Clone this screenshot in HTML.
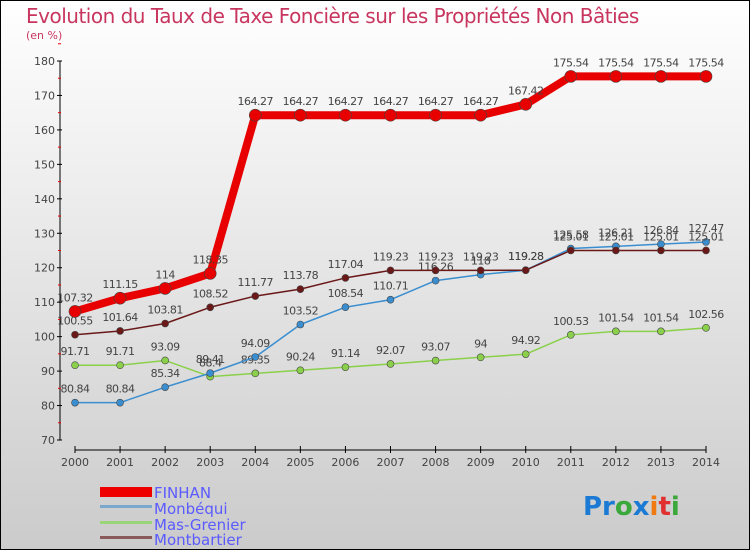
<!DOCTYPE html>
<html><head><meta charset="utf-8"><style>
body{margin:0}
svg{display:block;font-family:"DejaVu Sans","Liberation Sans",sans-serif}
</style></head><body>
<svg id="c" width="750" height="550" xmlns="http://www.w3.org/2000/svg">
<defs><linearGradient id="bg" x1="0" y1="0" x2="0" y2="1"><stop offset="0" stop-color="#ffffff"/><stop offset="1" stop-color="#cbcbcb"/></linearGradient></defs>
<rect x="0.5" y="0.5" width="749" height="549" fill="url(#bg)" stroke="#000"/>
<text x="26" y="23" font-size="20" fill="#c8365f" style="letter-spacing:-0.5px">Evolution du Taux de Taxe Foncière sur les Propriétés Non Bâties</text>
<text x="26" y="39" font-size="11" fill="#c8365f">(en %)</text>
<g id="axes"></g>
<g id="series"></g>
<g id="legend" font-size="15" fill="#5a5aff">
<rect x="100" y="487" width="52" height="10" fill="#e00"/>
<text x="154" y="498">FINHAN</text>
<rect x="100" y="505" width="52" height="3" fill="#7aa7cc"/>
<text x="154" y="514">Monbéqui</text>
<rect x="100" y="521" width="52" height="3" fill="#9ad57a"/>
<text x="154" y="530">Mas-Grenier</text>
<rect x="100" y="536" width="52" height="3" fill="#8a5a5a"/>
<text x="154" y="545">Montbartier</text>
</g>
<text x="583" y="515" font-size="26" font-weight="bold"><tspan fill="#1a7ad4">Pr</tspan><tspan fill="#3aa83a">o</tspan><tspan fill="#1a7ad4">x</tspan><tspan fill="#f07a10">i</tspan><tspan fill="#e03030">t</tspan><tspan fill="#3aa83a">i</tspan></text>
</svg>
<script>
const years=[2000,2001,2002,2003,2004,2005,2006,2007,2008,2009,2010,2011,2012,2013,2014];
const yTicks=[70,80,90,100,110,120,130,140,150,160,170,180];
const finhan=[107.32,111.15,114,118.35,164.27,164.27,164.27,164.27,164.27,164.27,167.42,175.54,175.54,175.54,175.54];
const monbequi=[80.84,80.84,85.34,89.41,94.09,103.52,108.54,110.71,116.26,118,119.28,125.58,126.21,126.84,127.47];
const masGrenier=[91.71,91.71,93.09,88.40,89.35,90.24,91.14,92.07,93.07,94,94.92,100.53,101.54,101.54,102.56];
const montbartier=[100.55,101.64,103.81,108.52,111.77,113.78,117.04,119.23,119.23,119.23,119.28,125.01,125.01,125.01,125.01];
const NS="http://www.w3.org/2000/svg";
const x=i=>75+i*(706-75)/(years.length-1);
const y=v=>440-(v-70)*(440-61)/110;
function mk(t,a,p){const e=document.createElementNS(NS,t);for(const k in a)e.setAttribute(k,a[k]);p.appendChild(e);return e;}
const ax=document.getElementById('axes');
mk('line',{x1:60,y1:61,x2:60,y2:440,stroke:'#000'},ax);
mk('line',{x1:75,y1:450,x2:706,y2:450,stroke:'#000'},ax);
yTicks.forEach(v=>{
 mk('line',{x1:57,y1:y(v),x2:62,y2:y(v),stroke:'#000'},ax);
 mk('line',{x1:58,y1:y(v+5),x2:61,y2:y(v+5),stroke:'#e00'},ax);
 const t=mk('text',{x:55,y:y(v)+4,'text-anchor':'end','font-size':11,fill:'#444'},ax);
 
 
 t.textContent=v;
});
years.forEach((yr,i)=>{
 mk('line',{x1:x(i),y1:446,x2:x(i),y2:453,stroke:'#000'},ax);
 const t=mk('text',{x:x(i),y:466,'text-anchor':'middle','font-size':11,fill:'#444'},ax);
 
 
 t.textContent=yr;
});
const sg=document.getElementById('series');
function draw(vals,color,w,r,name){
 const g=mk('g',{},sg);
 
 
 const pl=mk('polyline',{points:vals.map((v,i)=>x(i)+','+y(v)).join(' '),fill:'none',stroke:color,'stroke-width':w,'stroke-linejoin':'round'},g);
 
 
 vals.forEach((v,i)=>{
  const c=mk('circle',{cx:x(i),cy:y(v),r:r,fill:color,stroke:'#444','stroke-width':0.6},g);
  
  
  const t=mk('text',{x:x(i),y:y(v)-10,'text-anchor':'middle','font-size':11,fill:'#444','letter-spacing':'-0.5'},g);
  
  
  t.textContent=v;
 });
}
draw(masGrenier,'#8ad04a',1.5,3.5,'mas-grenier');
draw(monbequi,'#3a8ed0',1.5,3.5,'monbequi');
draw(montbartier,'#6a1818',1.5,3.5,'montbartier');
draw(finhan,'#e80000',8,6,'finhan');
</script>
</body></html>
